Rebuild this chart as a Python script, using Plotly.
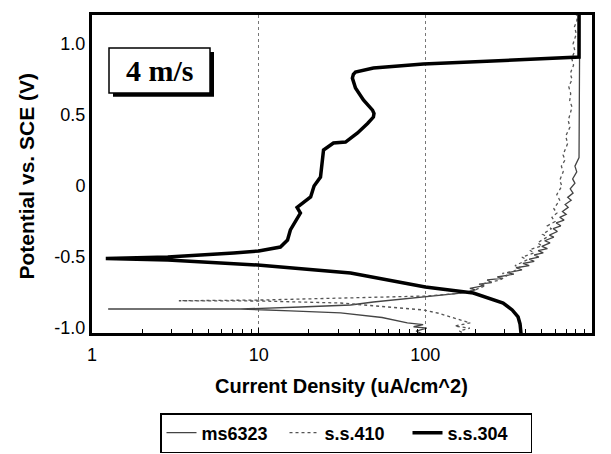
import plotly.graph_objects as go

# ---- data (current density in uA/cm^2, potential in V vs SCE) ----
ss304_current = [376, 370, 360, 332, 293, 194, 100, 35.6, 9.86, 2.85, 1.21,
                 2.85, 7.08, 10, 13.5, 14.9, 15.5, 16.5, 17.8, 17.0, 19.0, 20.5, 21.5, 23.5,
                 24.5, 28.1, 33.2, 39.2, 45.0, 48.8, 49.2, 48.2, 42.5, 38.1, 36.5, 37.0, 38.1, 48.8,
                 97.3, 769, 836, 836]
ss304_potential = [-1.05, -0.97, -0.921, -0.872, -0.823, -0.753, -0.710, -0.612, -0.556, -0.520, -0.510,
                   -0.500, -0.471, -0.457, -0.429, -0.380, -0.309, -0.250, -0.190, -0.150, -0.110, -0.077, 0.000, 0.063,
                   0.253, 0.302, 0.309, 0.373, 0.440, 0.485, 0.510, 0.534, 0.605, 0.689, 0.759, 0.785, 0.802, 0.830,
                   0.858, 0.900, 0.907, 1.25]

ms6323_current = [100, 88, 102, 85, 97, 78, 55, 35.6, 31, 15.5, 7.8, 1.25,
                  7.8, 17.8, 35.6, 48.8, 100, 169,
                  200, 185, 225, 210, 250, 235, 290, 270, 340, 310, 380, 350, 420, 385,
                  450, 420, 480, 450, 510, 475, 540, 500, 560, 520, 590, 555, 620, 585,
                  650, 610, 680, 640, 700, 665, 720, 690, 750, 715, 770, 740, 790, 765,
                  810, 790, 836, 845, 845]
ms6323_potential = [-1.05, -1.02, -1.0, -0.99, -0.975, -0.963, -0.925, -0.900, -0.893, -0.879, -0.865, -0.865,
                    -0.865, -0.851, -0.837, -0.816, -0.780, -0.752,
                    -0.73, -0.72, -0.70, -0.69, -0.68, -0.66, -0.65, -0.64, -0.62, -0.61, -0.59, -0.575, -0.56, -0.545,
                    -0.53, -0.515, -0.50, -0.485, -0.47, -0.455, -0.44, -0.425, -0.40, -0.385, -0.36, -0.345, -0.32, -0.30,
                    -0.28, -0.26, -0.24, -0.22, -0.20, -0.18, -0.15, -0.13, -0.10, -0.08, -0.05, -0.02, 0.02, 0.05,
                    0.10, 0.14, 0.20, 0.90, 1.25]

ss410_current = [178, 160, 185, 150, 186, 141, 120, 97.3, 61.7, 31, 10.3, 3.32,
                 10.3, 31, 100, 169,
                 200, 230, 215, 260, 281, 310, 290, 340, 370, 345, 408, 380, 450, 420, 500, 470,
                 538, 505, 570, 540, 600, 575, 617, 590, 640, 615, 660, 640, 672, 655, 689, 670,
                 715, 695, 738, 720, 759, 735, 745, 725, 760, 740, 775, 755, 790, 770, 805, 785, 813, 800]
ss410_potential = [-1.05, -1.02, -1.0, -0.985, -0.963, -0.921, -0.895, -0.872, -0.851, -0.823, -0.809, -0.807,
                   -0.802, -0.788, -0.774, -0.752,
                   -0.73, -0.70, -0.69, -0.67, -0.661, -0.63, -0.615, -0.60, -0.57, -0.56, -0.52, -0.50, -0.47, -0.45, -0.42, -0.40,
                   -0.359, -0.34, -0.30, -0.28, -0.25, -0.22, -0.19, -0.16, -0.10, -0.06, 0.0, 0.04, 0.10, 0.14, 0.183, 0.22,
                   0.30, 0.35, 0.415, 0.46, 0.556, 0.60, 0.65, 0.70, 0.75, 0.79, 0.85, 0.90, 0.95, 1.0, 1.07, 1.12, 1.167, 1.25]

x_tick_vals = [1, 10, 100, 1000]
x_tick_text = ["1", "10", "100", "1000"]
x_minor_vals = [2, 3, 4, 5, 6, 7, 8, 9, 20, 30, 40, 50, 60, 70, 80, 90,
                200, 300, 400, 500, 600, 700, 800, 900]
y_tick_vals = [1.0, 0.5, 0.0, -0.5, -1.0]
y_tick_text = ["1.0", "0.5", "0", "-0.5", "-1.0"]

FONT = "Liberation Sans, Arial, sans-serif"

fig = go.Figure()
fig.add_trace(go.Scatter(x=ms6323_current, y=ms6323_potential, mode="lines",
                         name="<b>ms6323</b>", line=dict(color="#444444", width=1.3)))
fig.add_trace(go.Scatter(x=ss410_current, y=ss410_potential, mode="lines",
                         name="<b>s.s.410</b>", line=dict(color="#555555", width=1.3, dash="dot")))
fig.add_trace(go.Scatter(x=ss304_current, y=ss304_potential, mode="lines",
                         name="<b>s.s.304</b>", line=dict(color="black", width=3.5)))

fig.update_layout(
    width=611, height=454,
    margin=dict(l=92, r=19, t=15, b=121),
    paper_bgcolor="white", plot_bgcolor="white",
    font=dict(family=FONT, color="black", size=18),
    showlegend=True,
    legend=dict(orientation="h", xref="container", yref="container",
                x=160 / 611, xanchor="left", y=(454 - 413) / 454, yanchor="top",
                bordercolor="black", borderwidth=1.5, bgcolor="white",
                font=dict(size=18, family=FONT), itemwidth=30,
                entrywidth=78, entrywidthmode="pixels"),
    xaxis=dict(type="log", range=[0, 3], tickvals=x_tick_vals, ticktext=x_tick_text,
               showline=True, linecolor="black", linewidth=3, mirror=True,
               ticks="inside", ticklen=5, tickcolor="black", ticklabelstandoff=3,
               showgrid=True, gridcolor="#777777", gridwidth=1, griddash="dot",
               minor=dict(tickvals=x_minor_vals, ticks="inside", ticklen=4,
                          tickcolor="black", showgrid=False),
               zeroline=False, tickfont=dict(size=18)),
    yaxis=dict(range=[-1.034, 1.203], tickvals=y_tick_vals, ticktext=y_tick_text,
               showline=True, linecolor="black", linewidth=3, mirror=True,
               ticks="", showgrid=False, zeroline=False, tickfont=dict(size=18)),
    annotations=[
        dict(text="<b>Current Density (uA/cm^2)</b>", xref="paper", yref="paper",
             x=0.499, y=-0.168, xanchor="center", yanchor="middle", showarrow=False,
             font=dict(size=20, family=FONT)),
        dict(text="<b>Potential vs. SCE (V)</b>", xref="paper", yref="paper",
             x=-0.13, y=0.492, xanchor="center", yanchor="middle", showarrow=False,
             textangle=-90, font=dict(size=21, family=FONT)),
        dict(text="<b>4 m/s</b>", xref="paper", yref="paper",
             x=0.135, y=0.826, xanchor="center", yanchor="middle", showarrow=False,
             font=dict(size=30, family="Liberation Serif, Times New Roman, serif")),
    ],
    shapes=[
        dict(type="rect", xref="paper", yref="paper", x0=0.042, x1=0.244, y0=0.743, y1=0.884,
             fillcolor="black", line=dict(width=0), layer="above"),
        dict(type="rect", xref="paper", yref="paper", x0=0.034, x1=0.236, y0=0.755, y1=0.896,
             fillcolor="white", line=dict(color="black", width=1.5), layer="above"),
    ],
)

fig.write_html("out.html")
